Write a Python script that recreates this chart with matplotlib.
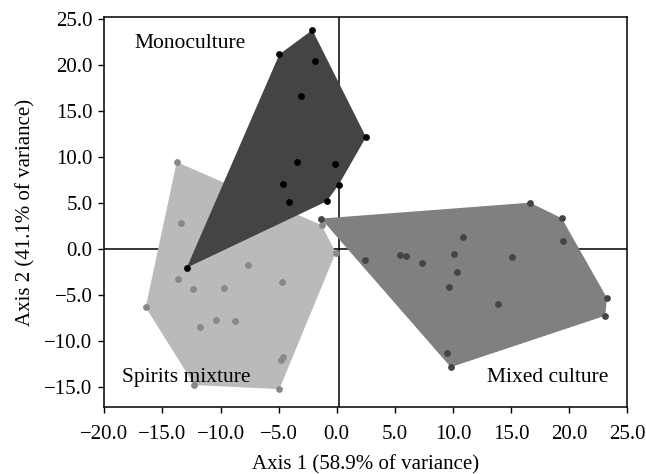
import matplotlib.pyplot as plt
import numpy as np

# PCA scores (Axis 1, Axis 2)
mono_x = [-2.10, -4.94, -1.89, -3.07, -3.44, -0.12, -4.65, 0.17, -4.08, -0.86, 2.52, -12.91]
mono_y = [23.80, 21.15, 20.40, 16.60, 9.40, 9.18, 7.08, 6.97, 5.10, 5.17, 12.15, -2.06]

mixed_x = [16.63, 19.36, 19.48, 23.24, 23.12, 9.81, 9.49, -1.35, 2.41, 5.45, 5.99, 7.34,
           10.12, 10.87, 10.33, 9.69, 13.91, 15.06]
mixed_y = [5.02, 3.33, 0.83, -5.31, -7.27, -12.87, -11.28, 3.29, -1.23, -0.72, -0.83, -1.52,
           -0.51, 1.27, -2.57, -4.12, -6.00, -0.90]

spirits_x = [-13.77, -13.37, -1.29, -0.09, -7.63, -13.68, -12.37, -9.72, -4.68, -16.44,
             -11.74, -10.36, -8.75, -4.65, -4.76, -12.25, -4.94]
spirits_y = [9.44, 2.86, 2.57, -0.43, -1.77, -3.29, -4.37, -4.23, -3.65, -6.36,
             -8.46, -7.74, -7.88, -11.79, -12.08, -14.82, -15.26]

x_ticks = [-20, -15, -10, -5, 0, 5, 10, 15, 20, 25]
y_ticks = [-15, -10, -5, 0, 5, 10, 15, 20, 25]


def convex_hull(xs, ys):
    # monotone chain, returns hull vertices in order
    pts = sorted(zip(xs, ys))

    def cross(o, a, b):
        return (a[0] - o[0]) * (b[1] - o[1]) - (a[1] - o[1]) * (b[0] - o[0])

    lower, upper = [], []
    for p in pts:
        while len(lower) >= 2 and cross(lower[-2], lower[-1], p) <= 0:
            lower.pop()
        lower.append(p)
    for p in reversed(pts):
        while len(upper) >= 2 and cross(upper[-2], upper[-1], p) <= 0:
            upper.pop()
        upper.append(p)
    return np.array(lower[:-1] + upper[:-1])


def fmt(v):
    return '\u2212%.1f' % -v if v < 0 else '%.1f' % v


plt.rcParams['font.family'] = ['Liberation Serif', 'DejaVu Serif']
plt.rcParams['font.size'] = 15

fig = plt.figure(figsize=(6.46, 4.74), dpi=100)
ax = fig.add_axes([0.1615, 0.1403, 0.8095, 0.8245])

# hulls
for xs, ys, col in [(spirits_x, spirits_y, '#bababa'),
                    (mono_x, mono_y, '#444444'),
                    (mixed_x, mixed_y, '#808080')]:
    hull = convex_hull(xs, ys)
    ax.fill(hull[:, 0], hull[:, 1], color=col, lw=0, zorder=2)

# quadrant lines
ax.axhline(0, color='black', lw=1.1, zorder=1)
ax.axvline(0.2, color='black', lw=1.1, zorder=1)

# points
ax.scatter(spirits_x, spirits_y, s=24, color='#888888', zorder=3, linewidths=0)
ax.scatter(mixed_x, mixed_y, s=24, color='#444444', zorder=3, linewidths=0)
ax.scatter(mono_x, mono_y, s=24, color='black', zorder=4, linewidths=0)

ax.text(-17.4, 22.3, 'Monoculture', ha='left', va='center', fontsize=15.5)
ax.text(-18.5, -14.0, 'Spirits mixture', ha='left', va='center', zorder=5, fontsize=15.5)
ax.text(12.9, -14.0, 'Mixed culture', ha='left', va='center', fontsize=15.5)

ax.set_xlim(-20, 25)
ax.set_ylim(-17.26, 25.25)
ax.set_xticks(x_ticks)
ax.set_yticks(y_ticks)
ax.set_xticklabels([fmt(v) for v in x_ticks])
ax.set_yticklabels([fmt(v) for v in y_ticks])
ax.tick_params(direction='out', length=4.5, width=1)
ax.tick_params(axis='x', pad=8)
ax.tick_params(axis='y', pad=4)
for s in ax.spines.values():
    s.set_linewidth(1.1)

ax.set_xlabel('Axis 1 (58.9% of variance)', labelpad=8)
ax.set_ylabel('Axis 2 (41.1% of variance)', labelpad=6)

fig.savefig('out.png', dpi=100)
